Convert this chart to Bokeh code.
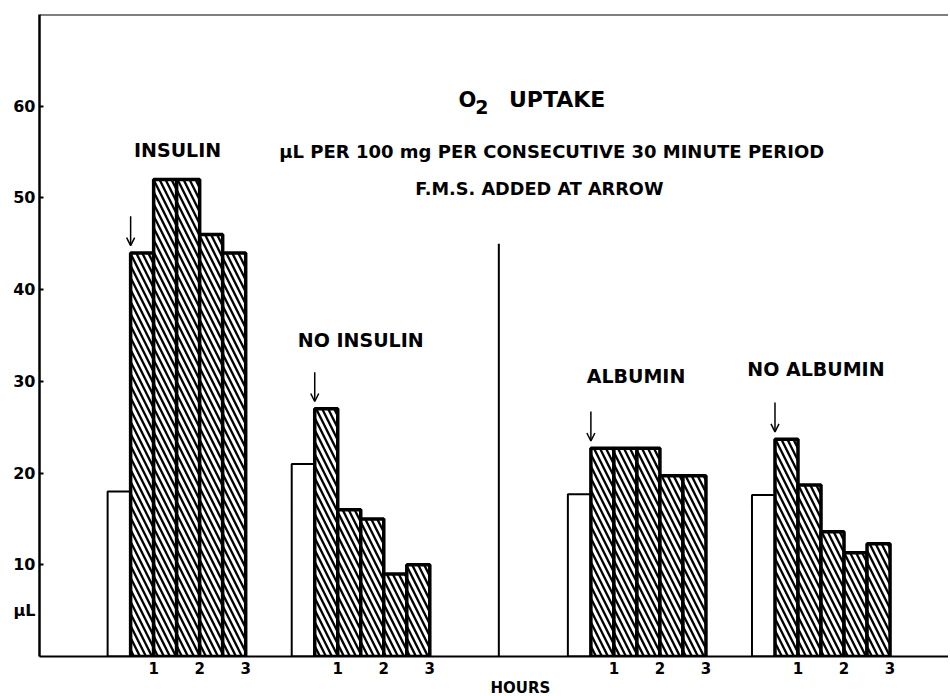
from bokeh.plotting import figure
from bokeh.models import Range1d, FixedTicker, Label, Arrow, OpenHead, Span, Title
from bokeh.embed import file_html
from bokeh.resources import INLINE

# ---- data ----
period_start = [0.0, 0.5, 1.0, 1.5, 2.0, 2.5]   # hours, consecutive 30-min periods
insulin = [18, 44, 52, 52, 46, 44]
no_insulin = [21, 27, 16, 15, 9, 10]
albumin = [17.7, 22.7, 22.7, 22.7, 19.7, 19.7]
no_albumin = [17.6, 23.7, 18.7, 13.6, 11.3, 12.3]
group_names = ["INSULIN", "NO INSULIN", "ALBUMIN", "NO ALBUMIN"]
hour_ticks = [1, 2, 3]
y_ticks = [10, 20, 30, 40, 50, 60]
y_unit_pos = 5
y_unit = "µL"

series = [insulin, no_insulin, albumin, no_albumin]

# ---- layout ----
FONT = "DejaVu Sans"
group_offsets = [1.5, 5.5, 11.5, 15.5]
label_pos = [(1.52, 55.2), (1.5, 34.5), (1.48, 30.6), (1.39, 31.4)]
period = 0.5

p = figure(width=948, height=696, output_backend="svg", toolbar_location=None,
           x_range=Range1d(0.02, 19.77), y_range=Range1d(0, 70),
           min_border_left=39, min_border_right=0, min_border_top=14,
           min_border_bottom=39)
p.outline_line_color = None
p.xgrid.visible = False
p.ygrid.visible = False
p.background_fill_color = "white"

# y axis: value ticks plus the unit label
p.yaxis.ticker = FixedTicker(ticks=[y_unit_pos] + y_ticks, minor_ticks=y_ticks)
p.yaxis.major_label_overrides = {y_unit_pos: y_unit}
p.yaxis.major_tick_in = 0
p.yaxis.major_tick_out = 0
p.yaxis.minor_tick_in = 4
p.yaxis.minor_tick_out = 0
p.yaxis.minor_tick_line_width = 2
p.yaxis.minor_tick_line_color = "black"
p.yaxis.major_label_standoff = 4
p.yaxis.axis_line_width = 2.5
p.yaxis.major_label_text_font = FONT
p.yaxis.major_label_text_font_style = "bold"
p.yaxis.major_label_text_font_size = "16px"
p.yaxis.major_label_text_color = "black"

xticks = []
overrides = {}
for off in group_offsets:
    for h in hour_ticks:
        xticks.append(off + h)
        overrides[off + h] = str(h)
p.xaxis.ticker = FixedTicker(ticks=xticks)
p.xaxis.major_label_overrides = overrides
p.xaxis.major_tick_in = 0
p.xaxis.major_tick_out = 0
p.xaxis.minor_tick_line_color = None
p.xaxis.axis_line_width = 2
p.xaxis.major_label_standoff = 5
p.xaxis.major_label_text_font = FONT
p.xaxis.major_label_text_font_style = "bold"
p.xaxis.major_label_text_font_size = "15px"
p.xaxis.major_label_text_color = "black"

hours_title = Title(text="HOURS", align="left", offset=451, standoff=0,
                    text_font=FONT, text_font_style="bold", text_font_size="15px",
                    text_color="black")
p.add_layout(hours_title, "below")

p.add_layout(Span(location=70, dimension="width", line_color="black", line_width=2))

# bars
for off, vals, name, (lx, ly) in zip(group_offsets, series, group_names, label_pos):
    lefts = [off + t for t in period_start]
    rights = [l + period for l in lefts]
    p.quad(left=lefts[:1], right=rights[:1], bottom=0, top=vals[:1],
           fill_color="white", line_color="black", line_width=2)
    p.quad(left=lefts[1:], right=rights[1:], bottom=0, top=vals[1:],
           fill_color="white", line_color="black", line_width=3.5,
           hatch_pattern="\\", hatch_color="black", hatch_scale=12, hatch_weight=2.3)
    # arrow: F.M.S. added
    p.add_layout(Arrow(end=OpenHead(size=8, line_width=1.5, line_color="black"),
                       x_start=off + period, y_start=vals[1] + 4.0,
                       x_end=off + period, y_end=vals[1] + 0.8,
                       line_width=1.5, line_color="black"))
    p.add_layout(Label(x=off + lx, y=ly, text=name, text_align="center",
                       text_baseline="middle", text_font=FONT,
                       text_font_style="bold", text_font_size="19px",
                       text_color="black"))

# divider
p.segment(x0=[10], y0=[0], x1=[10], y1=[45], line_color="black", line_width=2)

def lab(x, y, t, size, align="center"):
    p.add_layout(Label(x=x, y=y, text=t, text_align=align, text_baseline="middle",
                       text_font=FONT, text_font_style="bold",
                       text_font_size=size, text_color="black"))

lab(9.32, 60.7, "O", "21px")
lab(9.63, 59.9, "2", "19px")
lab(10.22, 60.7, "UPTAKE", "22px", align="left")
lab(11.15, 55.1, "µL PER 100 mg PER CONSECUTIVE 30 MINUTE PERIOD", "18px")
lab(10.88, 51.0, "F.M.S. ADDED AT ARROW", "17.7px")

open("out.html", "w").write(file_html(p, INLINE))
